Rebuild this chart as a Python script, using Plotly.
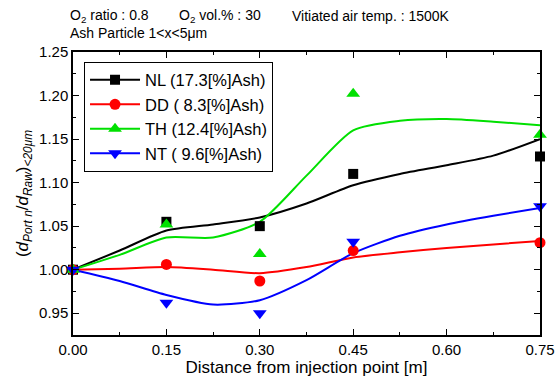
import plotly.graph_objects as go

# ---- data ----
x_pts = [0.00, 0.15, 0.30, 0.45, 0.75]
nl_pts = [1.000, 1.055, 1.050, 1.110, 1.130]
dd_pts = [1.000, 1.006, 0.987, 1.022, 1.031]
th_pts = [1.000, 1.052, 1.018, 1.202, 1.155]
nt_pts = [1.000, 0.962, 0.950, 1.032, 1.073]

# smooth fit curves
x_fit = [0.0, 0.075, 0.15, 0.225, 0.30, 0.375, 0.45, 0.525, 0.60, 0.675, 0.75]
nl_fit = [1.000, 1.022, 1.045, 1.052, 1.060, 1.076, 1.097, 1.110, 1.120, 1.131, 1.150]
dd_fit = [1.000, 1.001, 1.003, 1.000, 0.996, 1.003, 1.014, 1.020, 1.025, 1.029, 1.033]
th_fit = [1.000, 1.017, 1.037, 1.037, 1.055, 1.108, 1.160, 1.171, 1.173, 1.170, 1.166]
nt_fit = [1.000, 0.987, 0.971, 0.960, 0.965, 0.988, 1.019, 1.039, 1.052, 1.062, 1.071]

names = ["NL (17.3[%]Ash)", "DD ( 8.3[%]Ash)", "TH (12.4[%]Ash)", "NT ( 9.6[%]Ash)"]
colors = ["#000000", "#ff0000", "#00e000", "#0000ff"]
symbols = ["square", "circle", "triangle-up", "triangle-down"]
sizes = [10, 11, 12, 12]

x_ticks = [0.00, 0.15, 0.30, 0.45, 0.60, 0.75]
y_ticks = [0.95, 1.00, 1.05, 1.10, 1.15, 1.20, 1.25]

FONT = "Liberation Sans, Arial, sans-serif"

fig = go.Figure()
pts = [nl_pts, dd_pts, th_pts, nt_pts]
fits = [nl_fit, dd_fit, th_fit, nt_fit]

for i in range(4):
    fig.add_trace(go.Scatter(x=x_fit, y=fits[i], mode="lines", line=dict(color=colors[i], width=2, shape="spline", smoothing=0.7),
                             showlegend=False, cliponaxis=False, hoverinfo="skip"))
for i in range(4):
    fig.add_trace(go.Scatter(x=x_pts, y=pts[i], mode="markers",
                             marker=dict(symbol=symbols[i], size=sizes[i], color=colors[i], line=dict(width=0)),
                             showlegend=False, cliponaxis=False))
for i in range(4):
    fig.add_trace(go.Scatter(x=[None], y=[None], mode="lines+markers", name=names[i],
                             line=dict(color=colors[i], width=2),
                             marker=dict(symbol=symbols[i], size=sizes[i], color=colors[i], line=dict(width=0))))

axis_common = dict(
    showline=True, linecolor="black", linewidth=1.5, mirror="ticks",
    ticks="inside", ticklen=6, tickwidth=1.2, tickcolor="black",
    showgrid=False, zeroline=False, automargin=False,
    tickfont=dict(family=FONT, size=15, color="black"),
)

fig.update_layout(
    width=556, height=381,
    margin=dict(l=73, r=16, t=52, b=46),
    paper_bgcolor="white", plot_bgcolor="white",
    font=dict(family=FONT, color="black"),
    xaxis=dict(range=[0, 0.75], tickvals=x_ticks, tickformat=".2f",
               minor=dict(ticks="inside", ticklen=3, tickcolor="black", dtick=0.075, tick0=0),
               title=dict(text="Distance from injection point [m]", font=dict(size=17, family=FONT), standoff=4),
               **axis_common),
    yaxis=dict(range=[0.925, 1.25], tickvals=y_ticks, tickformat=".2f",
               minor=dict(ticks="inside", ticklen=3, tickcolor="black", dtick=0.025, tick0=0.925),
               title=dict(text="(<i>d</i><sub><i>Port n</i></sub>/<i>d</i><sub><i>Raw</i></sub>)<sub><i>&lt;20μm</i></sub>",
                          font=dict(size=17, family=FONT), standoff=6),
               **axis_common),
    legend=dict(x=0.0236, y=0.966, xanchor="left", yanchor="top",
                bordercolor="black", borderwidth=1, bgcolor="white", itemwidth=50,
                font=dict(family=FONT, size=16.5, color="black"), tracegroupgap=0),
    showlegend=True,
)

fig.add_annotation(xref="paper", yref="paper", x=-0.0107, y=1.126, xanchor="left", yanchor="middle",
                   text="O<sub>2</sub> ratio : 0.8", showarrow=False, font=dict(size=14, family=FONT))
fig.add_annotation(xref="paper", yref="paper", x=(177 - 73) / 467, y=1.126, xanchor="left", yanchor="middle",
                   text="O<sub>2</sub> vol.% : 30", showarrow=False, font=dict(size=14, family=FONT))
fig.add_annotation(xref="paper", yref="paper", x=(290 - 73) / 467, y=1.126, xanchor="left", yanchor="middle",
                   text="Vitiated air temp. : 1500K", showarrow=False, font=dict(size=14, family=FONT))
fig.add_annotation(xref="paper", yref="paper", x=-0.0107, y=1.068, xanchor="left", yanchor="middle",
                   text="Ash Particle 1&lt;x&lt;5μm", showarrow=False, font=dict(size=14, family=FONT))

fig.write_html("out.html", config={"displayModeBar": False},
               post_script="document.body.style.margin='0';document.body.style.overflow='hidden';")
